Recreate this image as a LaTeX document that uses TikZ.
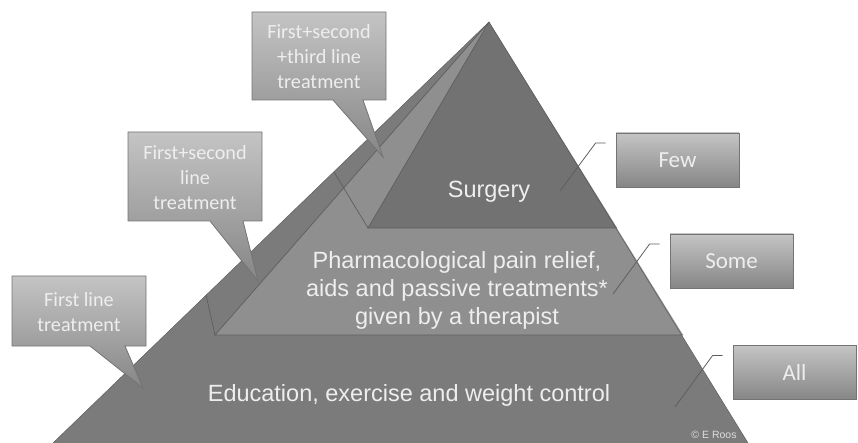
\documentclass[tikz,border=0pt]{standalone}
\usepackage{fontspec}
\setmainfont{Liberation Sans}
\newfontfamily\callfont{Carlito}
\begin{document}
\begin{tikzpicture}[x=1pt,y=-1pt]
\definecolor{baselayer}{HTML}{7B7B7B}
\definecolor{midlayer}{HTML}{8F8F8F}
\definecolor{toplayer}{HTML}{727272}
\definecolor{edgegray}{HTML}{5E5E5E}
\definecolor{boxtop}{HTML}{C4C4C4}
\definecolor{boxbot}{HTML}{868686}
\definecolor{boxline}{HTML}{747474}
\definecolor{lighttext}{HTML}{EEEEEE}
\tikzset{
  layertext/.style={text=lighttext,font=\fontsize{23.5}{28}\selectfont,align=center,inner sep=0pt},
  calltext/.style={text=lighttext,font=\callfont\fontsize{20.2}{25}\selectfont,align=center,inner sep=0pt},
  sidebox/.style={draw=boxline,line width=0.8pt,top color=boxtop,bottom color=boxbot,
    minimum width=123pt,minimum height=54pt,inner sep=0pt,text=lighttext,
    font=\callfont\fontsize{23}{26}\selectfont},
  callshape/.style={draw=boxline,line width=0.8pt,top color=boxtop,bottom color=boxbot},
  foldline/.style={draw=edgegray,line width=0.7pt},
  leader/.style={draw=edgegray,line width=0.8pt},
}
\useasboundingbox (0,0) rectangle (858,443);
% outer pyramid points
\coordinate (apex) at (489,22);
\coordinate (bl) at (53,443);
\coordinate (br) at (748,443);
\coordinate (ml) at (215,335);
\coordinate (mr) at (683,335);
\coordinate (sl) at (368,228);
\coordinate (sr) at (617,228);
\coordinate (f1) at (334,172);
\coordinate (f2) at (206,295);
% layers
\fill[baselayer] (apex) -- (bl) -- (br) -- cycle;
\fill[midlayer] (apex) -- (ml) -- (mr) -- cycle;
\fill[toplayer] (apex) -- (sl) -- (sr) -- cycle;
\draw[foldline] (apex) -- (ml) -- (mr);
\draw[foldline] (apex) -- (sl) -- (sr);
\draw[foldline] (f1) -- (sl);
\draw[foldline] (f2) -- (ml);
\draw[draw=edgegray,line width=0.5pt] (bl) -- (apex) -- (br);
% layer texts
\node[layertext] (surgery) at (489,192) {Surgery};
\node[layertext] (pharma) at (457,290) {Pharmacological pain relief,\\aids and passive treatments*\\given by a therapist};
\node[layertext] (edu) at (409,395) {Education, exercise and weight control};
\node[text=lighttext!85!gray,font=\fontsize{10.5}{11}\selectfont,inner sep=0pt] (copy) at (714,435) {\textcopyright{} E Roos};
% left callouts
\path[callshape] (252,12) -- (386,12) -- (386,100) -- (363,100) -- (383,157) -- (333,100) -- (252,100) -- cycle;
\node[calltext] (c3) at (319,57) {First+second\\+third line\\treatment};
\path[callshape] (128,132) -- (262,132) -- (262,221) -- (243,221) -- (258,281) -- (210,221) -- (128,221) -- cycle;
\node[calltext] (c2) at (195,178) {First+second\\line\\treatment};
\path[callshape] (12,276) -- (146,276) -- (146,346) -- (125,346) -- (143,388) -- (90,346) -- (12,346) -- cycle;
\node[calltext] (c1) at (79,312) {First line\\treatment};
% right boxes
\node[sidebox] (few) at (677.5,160) {Few};
\node[sidebox] (some) at (731.5,261) {Some};
\node[sidebox] (all) at (794.5,372.5) {All};
% leaders
\coordinate (lf) at (560,191);
\coordinate (ls) at (613,294);
\coordinate (la) at (675,407);
\draw[leader] (few.west) ++(-10,-17) coordinate (kf) -- ++(-10,0) -- (lf);
\draw[leader] (some.west) ++(-10,-17) coordinate (ks) -- ++(-10,0) -- (ls);
\draw[leader] (all.west) ++(-10,-17) coordinate (ka) -- ++(-10,0) -- (la);
\end{tikzpicture}
\end{document}
